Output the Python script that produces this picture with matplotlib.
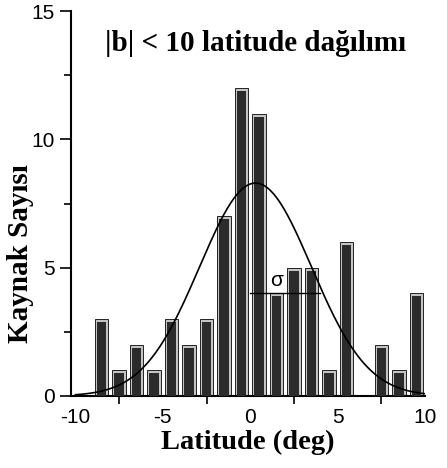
import numpy as np
import matplotlib.pyplot as plt

# latitude bins (centres, width 1 deg) and source counts
bin_centers = [-8.5, -7.5, -6.5, -5.5, -4.5, -3.5, -2.5, -1.5, -0.5, 0.5,
               1.5, 2.5, 3.5, 4.5, 5.5, 6.5, 7.5, 8.5, 9.5]
counts = [3, 1, 2, 1, 3, 2, 3, 7, 12, 11, 4, 5, 5, 1, 6, 0, 2, 1, 4]

# gaussian fit
fit_amp = 8.3
fit_mu = 0.3
fit_sigma = 3.2

# sigma marker
sigma_x = [0.0, 4.0]
sigma_y = 4.0

x_ticks = [-10, -5, 0, 5, 10]
y_ticks = [0, 5, 10, 15]

serif = 'Liberation Serif'
sans = 'Liberation Sans'
plt.rcParams['axes.unicode_minus'] = False

fig = plt.figure(figsize=(4.47, 4.68), dpi=100)
ax = fig.add_axes([0.159, 0.154, 0.792, 0.822])

nonzero = [i for i, c in enumerate(counts) if c > 0]
xs = [bin_centers[i] for i in nonzero]
hs = [counts[i] for i in nonzero]
ax.bar(xs, hs, width=0.78, color='#c4c4c4', edgecolor='#222222', linewidth=0.7, zorder=2)
ax.bar(xs, [h - 0.12 for h in hs], width=0.55, color='#2b2b2b', linewidth=0, zorder=3)

xx = np.linspace(-10, 10, 400)
ax.plot(xx, fit_amp * np.exp(-(xx - fit_mu) ** 2 / (2 * fit_sigma ** 2)),
        color='black', lw=1.2, zorder=4)

ax.plot(sigma_x, [sigma_y, sigma_y], color='black', lw=1.0, zorder=5)
ax.text(1.5, sigma_y + 0.12, 'σ', fontsize=15, family=sans, ha='center', va='bottom', zorder=6)

ax.set_xlim(-10.25, 10)
ax.set_ylim(0, 15)

ax.set_xticks(x_ticks)
ax.set_xticks([-7.5, -2.5, 2.5, 7.5], minor=True)
ax.tick_params(axis='x', which='major', length=0, pad=9)
ax.tick_params(axis='x', which='minor', length=6, width=1.2, direction='out')
ax.set_yticks(y_ticks)
ax.set_yticks([2.5, 7.5, 12.5], minor=True)
ax.tick_params(axis='y', which='major', length=8, width=1.2, direction='out')
ax.tick_params(axis='y', which='minor', length=5, width=1.2, direction='out')
for lab in ax.get_xticklabels() + ax.get_yticklabels():
    lab.set_fontfamily(sans)
    lab.set_fontsize(15)

for s in ['top', 'right']:
    ax.spines[s].set_visible(False)
for s in ['left', 'bottom']:
    ax.spines[s].set_linewidth(1.5)

ax.set_xlabel('Latitude (deg)', fontsize=20.5, fontweight='bold', family=serif, labelpad=2)
ax.set_ylabel('Kaynak Sayısı', fontsize=21, fontweight='bold', family=serif)
ax.yaxis.set_label_coords(-0.105, 0.37)

ax.text(0.3, 13.75, '|b| < 10 latitude dağılımı', fontsize=21, fontweight='bold',
        family=serif, ha='center', va='center')

fig.savefig('out.png', dpi=100)
